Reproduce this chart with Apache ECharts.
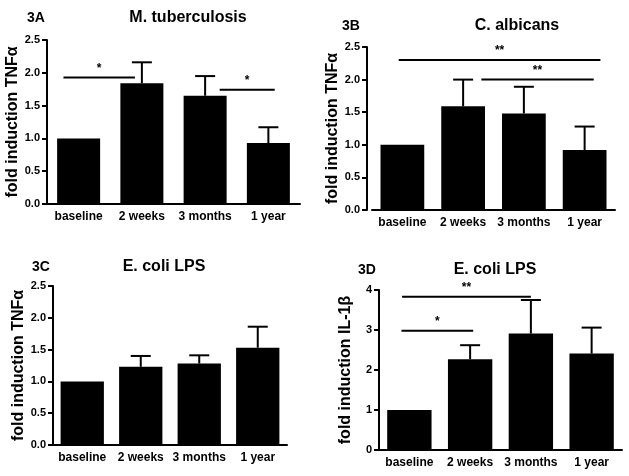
<!DOCTYPE html>
<html><head><meta charset="utf-8">
<script src="https://cdn.jsdelivr.net/npm/echarts@6/dist/echarts.min.js"></script>
<style>html,body{margin:0;padding:0;background:#fff}#c{width:629px;height:476px}</style>
</head><body><div id="c"></div>
<script>
var categories = ['baseline', '2 weeks', '3 months', '1 year'];

var meanA = [1.00, 1.84, 1.65, 0.93];
var semA  = [0, 0.32, 0.30, 0.24];
var meanB = [1.00, 1.59, 1.48, 0.92];
var semB  = [0, 0.41, 0.41, 0.36];
var meanC = [1.00, 1.23, 1.28, 1.53];
var semC  = [0, 0.17, 0.13, 0.33];
var meanD = [1.00, 2.27, 2.91, 2.41];
var semD  = [0, 0.35, 0.84, 0.65];

// significance bars: [from (category position), to (category position), height, label]
var sigA = [[-0.24, 0.89, 1.93, '*'], [2.23, 3.10, 1.74, '*']];
var sigB = [[-0.06, 3.26, 2.30, '**'], [1.30, 3.15, 2.00, '**']];
var sigC = [];
var sigD = [[-0.13, 1.05, 2.98, '*'], [-0.12, 2.00, 3.83, '**']];

var panelTags = ['3A', '3B', '3C', '3D'];
var panelTitles = ['M. tuberculosis', 'C. albicans', 'E. coli LPS', 'E. coli LPS'];
var yNames = ['fold induction TNF\u03b1', 'fold induction TNF\u03b1', 'fold induction TNF\u03b1', 'fold induction IL-1\u03b2'];
var yMax = [2.5, 2.5, 2.5, 4];
var yStep = [0.5, 0.5, 0.5, 1];
var yDecimals = [1, 1, 1, 0];

var means = [meanA, meanB, meanC, meanD];
var sems = [semA, semB, semC, semD];
var sigs = [sigA, sigB, sigC, sigD];

var FONT = 'Liberation Sans, Arial, sans-serif';

var grids = [
  {left: 47, top: 40, width: 253, height: 164},
  {left: 372, top: 47, width: 243, height: 163},
  {left: 53, top: 286, width: 234, height: 159},
  {left: 379, top: 290, width: 243, height: 160}
];
var yOffsets = [0, 5, 0, 0];
var barWidths = ['68%', '72%', '74%', '73%'];
var titlePos = [
  {tag: [22, 6], title: [183, 5]},
  {tag: [337, 14], title: [512, 13]},
  {tag: [27, 255], title: [159, 254]},
  {tag: [353, 258], title: [490, 257]}
];

var xAxes = [], yAxes = [], series = [], titles = [];
for (var i = 0; i < 4; i++) {
  xAxes.push({
    gridIndex: i, type: 'category', data: categories,
    axisLine: {lineStyle: {color: '#000', width: 2}},
    axisTick: {show: false},
    axisLabel: {color: '#000', fontWeight: 'bold', fontSize: 12, fontFamily: FONT, margin: 7, interval: 0}
  });
  (function (i) {
    yAxes.push({
      gridIndex: i, type: 'value', min: 0, max: yMax[i], interval: yStep[i],
      offset: yOffsets[i],
      name: yNames[i], nameLocation: 'middle', nameGap: 25,
      nameTextStyle: {color: '#000', fontWeight: 'bold', fontSize: 16, fontFamily: FONT},
      axisLine: {show: true, lineStyle: {color: '#000', width: 2}},
      axisTick: {show: true, length: 5, lineStyle: {color: '#000', width: 2}},
      axisLabel: {color: '#000', fontWeight: 'bold', fontSize: 11, fontFamily: FONT, margin: 7,
        formatter: function (v) { return v.toFixed(yDecimals[i]); }},
      splitLine: {show: false}
    });
  })(i);
  series.push({
    type: 'bar', xAxisIndex: i, yAxisIndex: i, data: means[i],
    barWidth: barWidths[i], itemStyle: {color: '#000'}, silent: true
  });
  (function (i) {
    var errData = means[i].map(function (m, k) { return [k, m, m + sems[i][k]]; })
      .filter(function (d, k) { return sems[i][k] > 0; });
    series.push({
      type: 'custom', xAxisIndex: i, yAxisIndex: i, data: errData, silent: true, z: 1,
      renderItem: function (params, api) {
        var x = api.value(0);
        var base = api.coord([x, api.value(1)]);
        var top = api.coord([x, api.value(2)]);
        var half = 10;
        return {type: 'group', children: [
          {type: 'line', shape: {x1: base[0], y1: base[1], x2: top[0], y2: top[1]}, style: {stroke: '#000', lineWidth: 2}},
          {type: 'line', shape: {x1: top[0] - half, y1: top[1], x2: top[0] + half, y2: top[1]}, style: {stroke: '#000', lineWidth: 2}}
        ]};
      }
    });
    if (sigs[i].length) {
      series.push({
        type: 'custom', xAxisIndex: i, yAxisIndex: i, silent: true,
        data: sigs[i].map(function (s, k) { return [0, s[2]]; }),
        renderItem: function (params, api) {
          var s = sigs[i][params.dataIndex];
          var band = api.size([1, 0])[0];
          var p0 = api.coord([0, s[2]]);
          var x1 = p0[0] + s[0] * band, x2 = p0[0] + s[1] * band;
          return {type: 'group', children: [
            {type: 'line', shape: {x1: x1, y1: p0[1], x2: x2, y2: p0[1]}, style: {stroke: '#000', lineWidth: 2}},
            {type: 'text', x: (x1 + x2) / 2, y: p0[1] - 3, style: {text: s[3], fill: '#000', font: 'bold 12px ' + FONT, textAlign: 'center', textVerticalAlign: 'bottom'}}
          ]};
        }
      });
    }
  })(i);
  titles.push({text: panelTags[i], left: titlePos[i].tag[0], top: titlePos[i].tag[1],
    textStyle: {color: '#000', fontWeight: 'bold', fontSize: 14, fontFamily: FONT}});
  titles.push({text: panelTitles[i], left: titlePos[i].title[0], top: titlePos[i].title[1], textAlign: 'center',
    textStyle: {color: '#000', fontWeight: 'bold', fontSize: 16, fontFamily: FONT}});
}

var chart = echarts.init(document.getElementById('c'), null, {renderer: 'canvas'});
chart.setOption({
  animation: false,
  backgroundColor: '#fff',
  title: titles,
  grid: grids,
  xAxis: xAxes,
  yAxis: yAxes,
  series: series
});
</script>
</body></html>
